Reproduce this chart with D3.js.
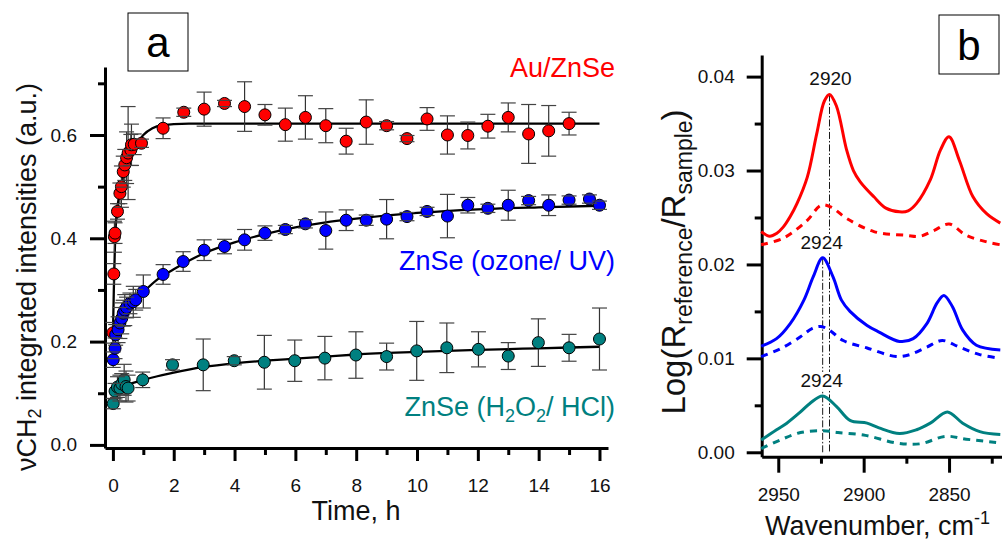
<!DOCTYPE html>
<html>
<head>
<meta charset="utf-8">
<script src="https://cdn.jsdelivr.net/npm/d3@7"></script>
<style>
  body { margin: 0; background: #fff; }
  svg { display: block; font-family: "Liberation Sans", Arial, sans-serif; }
</style>
</head>
<body>
<script>
// ---------- panel a : integrated intensities vs time ----------
// [time h, value, error]
var auPoints = [
  [0.00,0.217,0.020],[0.03,0.331,0.020],[0.05,0.403,0.030],[0.07,0.410,0.020],
  [0.15,0.452,0.015],[0.23,0.487,0.020],[0.28,0.500,0.040],[0.34,0.529,0.030],
  [0.39,0.542,0.030],[0.45,0.556,0.050],[0.50,0.565,0.090],[0.59,0.571,0.030],
  [0.61,0.581,0.040],[0.70,0.582,0.020],[0.94,0.584,0.008],[1.65,0.613,0.020],
  [2.33,0.644,0.008],[3.00,0.650,0.033],[3.67,0.661,0.006],[4.33,0.655,0.048],
  [5.00,0.639,0.020],[5.67,0.620,0.032],[6.33,0.634,0.042],[7.00,0.618,0.033],
  [7.67,0.588,0.025],[8.33,0.625,0.043],[9.00,0.618,0.008],[9.67,0.593,0.006],
  [10.33,0.631,0.022],[11.00,0.600,0.037],[11.67,0.599,0.026],[12.33,0.617,0.023],
  [13.00,0.634,0.028],[13.67,0.602,0.057],[14.33,0.608,0.049],[15.00,0.622,0.022]
];
var ozonePoints = [
  [0.01,0.165,0.015],[0.07,0.187,0.020],[0.09,0.213,0.020],[0.17,0.223,0.025],
  [0.23,0.236,0.030],[0.29,0.245,0.030],[0.34,0.255,0.025],[0.39,0.261,0.030],
  [0.45,0.266,0.020],[0.56,0.274,0.020],[0.67,0.277,0.030],[0.75,0.281,0.020],
  [1.00,0.297,0.032],[1.65,0.330,0.019],[2.31,0.355,0.019],[3.00,0.377,0.020],
  [3.67,0.384,0.014],[4.33,0.397,0.020],[5.00,0.410,0.014],[5.67,0.417,0.008],
  [6.33,0.428,0.008],[7.00,0.415,0.036],[7.67,0.435,0.020],[8.33,0.435,0.010],
  [9.00,0.437,0.038],[9.67,0.442,0.008],[10.33,0.452,0.008],[11.00,0.443,0.042],
  [11.67,0.464,0.015],[12.33,0.458,0.008],[13.00,0.464,0.029],[13.67,0.473,0.008],
  [14.33,0.464,0.020],[15.00,0.474,0.008],[15.67,0.476,0.008],[16.00,0.464,0.008]
];
var peroxidePoints = [
  [0.01,0.080,0.010],[0.07,0.104,0.015],[0.15,0.112,0.020],[0.23,0.110,0.025],
  [0.29,0.118,0.020],[0.37,0.126,0.030],[0.43,0.113,0.030],[0.50,0.110,0.025],
  [0.98,0.126,0.015],[1.96,0.155,0.010],[2.97,0.155,0.050],[3.99,0.163,0.008],
  [4.98,0.160,0.052],[5.98,0.163,0.040],[6.97,0.168,0.042],[7.99,0.174,0.045],
  [9.00,0.171,0.026],[9.99,0.182,0.057],[10.98,0.188,0.048],[12.02,0.185,0.034],
  [13.00,0.172,0.026],[13.99,0.198,0.046],[15.00,0.188,0.026],[16.00,0.205,0.060]
];
// fitted curves [time, value]
var auFit = [[0,0.21],[0.03,0.30],[0.06,0.37],[0.1,0.43],[0.2,0.48],[0.3,0.51],[0.5,0.548],
  [0.7,0.575],[1.0,0.600],[1.3,0.613],[1.6,0.619],[2.0,0.621],[2.5,0.622],[16,0.622]];
var ozoneFit = [[0,0.20],[0.1,0.222],[0.2,0.236],[0.4,0.257],[0.6,0.272],[1,0.296],[1.5,0.322],
  [2,0.340],[3,0.371],[4,0.392],[5,0.408],[6,0.421],[7,0.431],[8,0.438],[10,0.449],
  [12,0.456],[14,0.460],[16,0.463]];
var peroxideFit = [[0,0.103],[0.1,0.108],[0.3,0.113],[0.5,0.117],[1,0.126],[2,0.140],[3,0.151],
  [4,0.158],[5,0.163],[6,0.167],[7,0.171],[8,0.175],[10,0.180],[12,0.184],[14,0.187],[16,0.190]];

var timeTicks = [0,2,4,6,8,10,12,14,16];
var timeMinor = [1,3,5,7,9,11,13,15];
var intTicks = [0.0,0.2,0.4,0.6];
var intMinor = [0.1,0.3,0.5,0.7];

// ---------- panel b : spectra [wavenumber, value] ----------
var auSolid = [[2960,0.0235],[2955,0.0230],[2951,0.0233],[2947,0.0240],[2943,0.0251],[2939,0.0265],
  [2933,0.0293],[2927.5,0.0339],[2923,0.0374],[2920,0.0381],[2916,0.0369],[2910,0.0322],
  [2906,0.0300],[2902,0.0288],[2894,0.0272],[2887,0.0260],[2879,0.0256],[2874,0.0257],
  [2869,0.0265],[2861,0.0290],[2855,0.0322],[2850,0.0336],[2844,0.0311],[2836,0.0272],
  [2828,0.0254],[2820,0.0244]];
var auDash = [[2960,0.0221],[2947,0.0228],[2933,0.0247],[2925,0.0263],[2919,0.0261],[2910,0.0249],
  [2894,0.0235],[2875,0.0231],[2867,0.0230],[2859,0.0236],[2850,0.0243],[2840,0.0231],
  [2828,0.0224],[2820,0.0221]];
var ozoneSolid = [[2960,0.0113],[2951,0.0121],[2943,0.0137],[2935,0.0162],[2929.5,0.0187],[2924,0.0207],
  [2918,0.0187],[2913,0.0162],[2908,0.0150],[2898,0.0135],[2891,0.0128],[2879,0.0118],
  [2871,0.0121],[2863,0.0137],[2857,0.0159],[2853,0.0167],[2848,0.0155],[2842,0.0130],
  [2834,0.0114],[2820,0.0109]];
var ozoneDash = [[2960,0.0102],[2949,0.0110],[2937,0.0123],[2930,0.0132],[2925,0.0134],[2920,0.0130],
  [2912,0.0119],[2898,0.0111],[2881,0.0102],[2873,0.0104],[2863,0.0112],[2854,0.0119],
  [2844,0.0112],[2832,0.0104],[2820,0.0100]];
var peroxideSolid = [[2960,0.0013],[2951,0.0024],[2945,0.0031],[2937,0.0043],[2931.5,0.0052],[2924,0.0060],
  [2916,0.0049],[2908,0.0034],[2898,0.0031],[2891,0.0026],[2879,0.0020],[2869,0.0024],
  [2861,0.0031],[2851,0.0043],[2842,0.0031],[2832,0.0022],[2820,0.0019]];
var peroxideDash = [[2960,0.0004],[2949,0.0013],[2937,0.0021],[2924,0.0023],[2915,0.0021],[2899,0.0018],
  [2881,0.0010],[2867,0.0009],[2852,0.0017],[2840,0.0014],[2820,0.0010]];

// [wavenumber, peak value, label, draw guide line]
var peakMarks = [[2920,0.0381,"2920",true],[2924,0.0207,"2924",true],[2924,0.0060,"2924",false]];

var wnTicks = [2950,2900,2850];
var wnMinor = [2925,2875,2825];
var logTicks = [0.00,0.01,0.02,0.03,0.04];
var logMinor = [0.005,0.015,0.025,0.035];

var red = "#ff0000", blue = "#0000ff", teal = "#008080";

var svg = d3.select("body").append("svg").attr("width", 1002).attr("height", 540);

// ================= panel a =================
var xA = d3.scaleLinear().domain([-0.26, 16.28]).range([105, 608]);
var yA = d3.scaleLinear().domain([-0.006, 0.7316]).range([448, 67]);

function styleAxis(g) {
  g.attr("font-family", null).attr("font-size", null);
  g.selectAll("path, line").attr("stroke", "#000").attr("stroke-width", 3);
  g.selectAll("text").style("font-size", "19px").attr("fill", "#111")
    .style("font-family", "'Liberation Sans', Arial, sans-serif");
}

var gx = svg.append("g").attr("transform", "translate(0,448)")
  .call(d3.axisBottom(xA).tickValues(timeTicks).tickSize(13).tickSizeOuter(0)
    .tickPadding(18).tickFormat(d3.format("d")));
gx.append("g").call(d3.axisBottom(xA).tickValues(timeMinor).tickSize(7).tickFormat(""))
  .select(".domain").remove();
styleAxis(gx);

var gy = svg.append("g").attr("transform", "translate(105,0)")
  .call(d3.axisLeft(yA).tickValues(intTicks).tickSize(15).tickSizeOuter(0)
    .tickPadding(13).tickFormat(d3.format(".1f")));
gy.append("g").call(d3.axisLeft(yA).tickValues(intMinor).tickSize(7).tickFormat(""))
  .select(".domain").remove();
styleAxis(gy);

var fitLine = d3.line().x(function(d){return xA(d[0]);}).y(function(d){return yA(d[1]);})
  .curve(d3.curveMonotoneX);

var seriesA = [
  {pts: auPoints, fit: auFit, color: red},
  {pts: ozonePoints, fit: ozoneFit, color: blue},
  {pts: peroxidePoints, fit: peroxideFit, color: teal}
];

seriesA.forEach(function(s) {
  svg.append("path").datum(s.fit).attr("d", fitLine)
    .attr("fill", "none").attr("stroke", "#000").attr("stroke-width", 2.3);
});

seriesA.forEach(function(s) {
  var g = svg.append("g");
  // error bar stems behind markers
  g.selectAll("line.stem").data(s.pts).enter().append("line")
    .attr("x1", function(d){return xA(d[0]);}).attr("x2", function(d){return xA(d[0]);})
    .attr("y1", function(d){return yA(d[1]-d[2]);}).attr("y2", function(d){return yA(d[1]+d[2]);})
    .attr("stroke", "#333").attr("stroke-width", 1.2);
  g.selectAll("circle").data(s.pts).enter().append("circle")
    .attr("cx", function(d){return xA(d[0]);}).attr("cy", function(d){return yA(d[1]);})
    .attr("r", 6).attr("fill", s.color).attr("stroke", "#000").attr("stroke-width", 1);
  // caps
  [1, -1].forEach(function(sign) {
    g.selectAll(null).data(s.pts).enter().append("line")
      .attr("x1", function(d){return xA(d[0]) - 7.5;}).attr("x2", function(d){return xA(d[0]) + 7.5;})
      .attr("y1", function(d){return yA(d[1] + sign*d[2]);}).attr("y2", function(d){return yA(d[1] + sign*d[2]);})
      .attr("stroke", "#444").attr("stroke-width", 1.2);
  });
});

// series labels
svg.append("text").attr("x", 615).attr("y", 77).attr("text-anchor", "end")
  .attr("font-size", 27).attr("fill", red).text("Au/ZnSe");
svg.append("text").attr("x", 615).attr("y", 270).attr("text-anchor", "end")
  .attr("font-size", 27).attr("fill", blue).text("ZnSe (ozone/ UV)");
var tl = svg.append("text").attr("x", 615).attr("y", 416).attr("text-anchor", "end")
  .attr("font-size", 27).attr("fill", teal);
tl.append("tspan").text("ZnSe (H");
tl.append("tspan").attr("font-size", 18).attr("dy", 6).text("2");
tl.append("tspan").attr("dy", -6).text("O");
tl.append("tspan").attr("font-size", 18).attr("dy", 6).text("2");
tl.append("tspan").attr("dy", -6).text("/ HCl)");

// axis titles
svg.append("text").attr("x", 356).attr("y", 520).attr("text-anchor", "middle")
  .attr("font-size", 27).attr("fill", "#111").text("Time, h");
var ya = svg.append("text").attr("transform", "translate(36,277) rotate(-90)")
  .attr("text-anchor", "middle").attr("font-size", 27).attr("fill", "#111");
ya.append("tspan").text("νCH");
ya.append("tspan").attr("font-size", 18).attr("dy", 5).text("2");
ya.append("tspan").attr("dy", -5).text(" integrated intensities (a.u.)");

// panel label a
svg.append("rect").attr("x", 128).attr("y", 13).attr("width", 60).attr("height", 58)
  .attr("fill", "#fff").attr("stroke", "#000").attr("stroke-width", 1);
svg.append("text").attr("x", 158).attr("y", 57).attr("text-anchor", "middle")
  .attr("font-size", 42).text("a");

// ================= panel b =================
var xB = d3.scaleLinear().domain([2959.7, 2819]).range([761.7, 1002]);
var yB = d3.scaleLinear().domain([-0.00047, 0.0423]).range([456.7, 55]);

var gxb = svg.append("g").attr("transform", "translate(0,456.7)")
  .call(d3.axisBottom(xB).tickValues(wnTicks).tickSize(16).tickSizeOuter(0)
    .tickPadding(15).tickFormat(d3.format("d")));
gxb.append("g").call(d3.axisBottom(xB).tickValues(wnMinor).tickSize(7).tickFormat(""))
  .select(".domain").remove();
styleAxis(gxb);

var gyb = svg.append("g").attr("transform", "translate(761.7,0)")
  .call(d3.axisLeft(yB).tickValues(logTicks).tickSize(15).tickSizeOuter(0)
    .tickPadding(12).tickFormat(d3.format(".2f")));
gyb.append("g").call(d3.axisLeft(yB).tickValues(logMinor).tickSize(7).tickFormat(""))
  .select(".domain").remove();
styleAxis(gyb);

// vertical dash-dot markers at peak positions
peakMarks.filter(function(p){return p[3];}).forEach(function(p) {
  svg.append("line").attr("x1", xB(p[0])).attr("x2", xB(p[0]))
    .attr("y1", yB(p[1])).attr("y2", yB(0))
    .attr("stroke", "#000").attr("stroke-width", 0.9).attr("stroke-dasharray", "7,2,1.5,2");
});

var bgLayer = svg.append("g");
var curveLayer = svg.append("g");
var labelLayer = svg.append("g");

var specLine = d3.line().x(function(d){return xB(d[0]);}).y(function(d){return yB(d[1]);})
  .curve(d3.curveCatmullRom.alpha(0.5));

var spectra = [
  {data: auSolid, color: red, dash: null},
  {data: auDash, color: red, dash: "7,6"},
  {data: ozoneSolid, color: blue, dash: null},
  {data: ozoneDash, color: blue, dash: "7,6"},
  {data: peroxideSolid, color: teal, dash: null},
  {data: peroxideDash, color: teal, dash: "7,6"}
];
spectra.forEach(function(s) {
  curveLayer.append("path").datum(s.data).attr("d", specLine)
    .attr("fill", "none").attr("stroke", s.color).attr("stroke-width", 3)
    .attr("stroke-dasharray", s.dash);
});

peakMarks.forEach(function(p) {
  var t = labelLayer.append("text").attr("x", xB(p[0]) - (p[2] === "2924" ? 1 : -1))
    .attr("y", yB(p[1]) - 9).attr("text-anchor", "middle")
    .attr("font-size", 19).attr("fill", "#111").text(p[2]);
  var bb = t.node().getBBox();
  bgLayer.append("rect").attr("x", bb.x).attr("y", bb.y + 2)
    .attr("width", bb.width).attr("height", bb.height - 3).attr("fill", "#fff");
});

// axis titles b
var xt = svg.append("text").attr("x", 765).attr("y", 535)
  .attr("font-size", 27).attr("fill", "#111");
xt.append("tspan").text("Wavenumber, cm");
xt.append("tspan").attr("font-size", 18).attr("dy", -11).text("-1");

var yt = svg.append("text").attr("transform", "translate(685,262) rotate(-90)")
  .attr("text-anchor", "middle").attr("font-size", 33).attr("fill", "#111");
yt.append("tspan").text("Log(R");
yt.append("tspan").attr("font-size", 23).attr("dy", 7).text("reference");
yt.append("tspan").attr("dy", -7).text("/R");
yt.append("tspan").attr("font-size", 23).attr("dy", 7).text("sample");
yt.append("tspan").attr("dy", -7).text(")");

// panel label b
svg.append("rect").attr("x", 939).attr("y", 15).attr("width", 60).attr("height", 59)
  .attr("fill", "#fff").attr("stroke", "#000").attr("stroke-width", 1);
svg.append("text").attr("x", 969).attr("y", 60).attr("text-anchor", "middle")
  .attr("font-size", 42).text("b");
</script>
</body>
</html>
